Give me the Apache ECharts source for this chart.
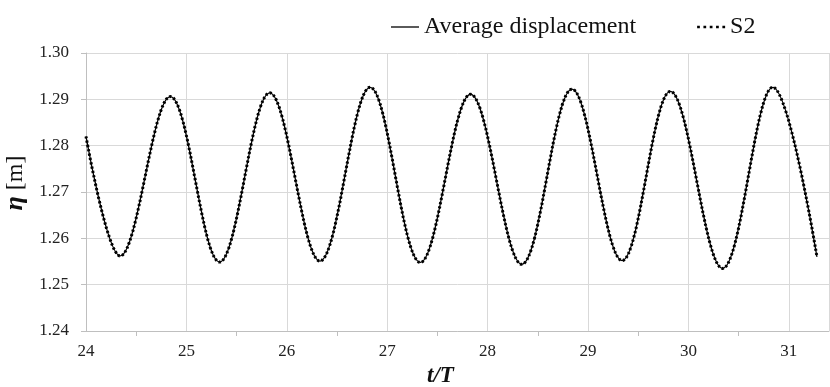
<!DOCTYPE html>
<html>
<head>
<meta charset="utf-8">
<script src="https://cdn.jsdelivr.net/npm/echarts@6/dist/echarts.min.js"></script>
<style>
  html, body { margin: 0; padding: 0; background: #fff; }
  #chart { width: 830px; height: 387px; }
</style>
</head>
<body>
<div id="chart"></div>
<script>
// t/T at the start, each trough/peak and the end of the record
var tVals = [24.00, 24.34, 24.84, 25.33, 25.83, 26.33, 26.83, 27.33, 27.83, 28.34, 28.84, 29.34, 29.82, 30.34, 30.84, 31.28];
var avgDisp = [1.2820, 1.2562, 1.2906, 1.2549, 1.2914, 1.2551, 1.2926, 1.2548, 1.2911, 1.2544, 1.2922, 1.2552, 1.2917, 1.2535, 1.2926, 1.2560];
var s2 = [1.2820, 1.2562, 1.2906, 1.2549, 1.2914, 1.2551, 1.2926, 1.2548, 1.2911, 1.2544, 1.2922, 1.2552, 1.2917, 1.2535, 1.2926, 1.2560];
var seriesNames = ['Average displacement', 'S2'];

var chart = echarts.init(document.getElementById('chart'));

function pairs(ys) {
  return tVals.map(function (t, i) { return [t, ys[i]]; });
}

var serif = 'Liberation Serif';
var option = {
  backgroundColor: '#fff',
  animation: false,
  legend: {
    data: [
      { name: seriesNames[0], icon: 'path://M0,0H28V1.3H0Z' },
      { name: seriesNames[1], icon: 'path://M0,0h2.6v2.6h-2.6zM6,0h2.6v2.6h-2.6zM12,0h2.6v2.6h-2.6zM18,0h2.6v2.6h-2.6zM24,0h2.6v2.6h-2.6z' }
    ],
    top: 10,
    left: 386,
    itemWidth: 28,
    itemHeight: 12,
    itemGap: 61,
    textStyle: { fontFamily: serif, fontSize: 24, color: '#111' }
  },
  grid: { left: 86, right: 1, top: 53, bottom: 56, outerBoundsMode: 'none' },
  xAxis: {
    type: 'value',
    min: 24,
    max: 31.4,
    interval: 1,
    name: 't/T',
    nameLocation: 'middle',
    nameGap: 34,
    nameTextStyle: {
      fontFamily: serif, fontSize: 23, fontWeight: 'bold', fontStyle: 'italic',
      color: '#111', padding: [0, 34, 0, 0]
    },
    axisLine: { lineStyle: { color: '#bfbfbf', width: 1 } },
    axisTick: { show: false },
    minorTick: { show: true, splitNumber: 2, length: 5, lineStyle: { color: '#bfbfbf' } },
    axisLabel: {
      fontFamily: serif, fontSize: 17, color: '#222', margin: 12,
      showMaxLabel: false,
      formatter: function (v) { return Number.isInteger(v) ? String(v) : ''; }
    },
    splitLine: { show: true, lineStyle: { color: '#d9d9d9', width: 1 } }
  },
  yAxis: {
    type: 'value',
    min: 1.24,
    max: 1.30,
    interval: 0.01,
    name: '{e|η} [m]',
    nameLocation: 'middle',
    nameRotate: 90,
    nameGap: 52,
    nameTextStyle: {
      fontFamily: serif, fontSize: 24, color: '#111', padding: [0, 0, 0, 18],
      rich: {
        e: { fontFamily: serif, fontSize: 26, fontWeight: 'bold', fontStyle: 'italic', color: '#111' }
      }
    },
    axisLine: { show: true, lineStyle: { color: '#bfbfbf', width: 1 } },
    axisTick: { show: true, length: 5, lineStyle: { color: '#bfbfbf' } },
    axisLabel: {
      fontFamily: serif, fontSize: 17, color: '#222', margin: 17,
      formatter: function (v) { return v.toFixed(2); }
    },
    splitLine: { show: true, lineStyle: { color: '#d9d9d9', width: 1 } }
  },
  series: [
    {
      name: seriesNames[0],
      type: 'line',
      data: pairs(avgDisp),
      smooth: 0.36,
      showSymbol: false,
      symbol: 'none',
      lineStyle: { color: '#000', width: 1.3 },
      itemStyle: { color: '#000' },
      z: 2
    },
    {
      name: seriesNames[1],
      type: 'line',
      data: pairs(s2),
      smooth: 0.36,
      showSymbol: false,
      symbol: 'none',
      lineStyle: { color: '#000', width: 3, type: [2.2, 2.2] },
      itemStyle: { color: '#000' },
      z: 3
    }
  ]
};

chart.setOption(option);
window.addEventListener('resize', chart.resize);
</script>
</body>
</html>
